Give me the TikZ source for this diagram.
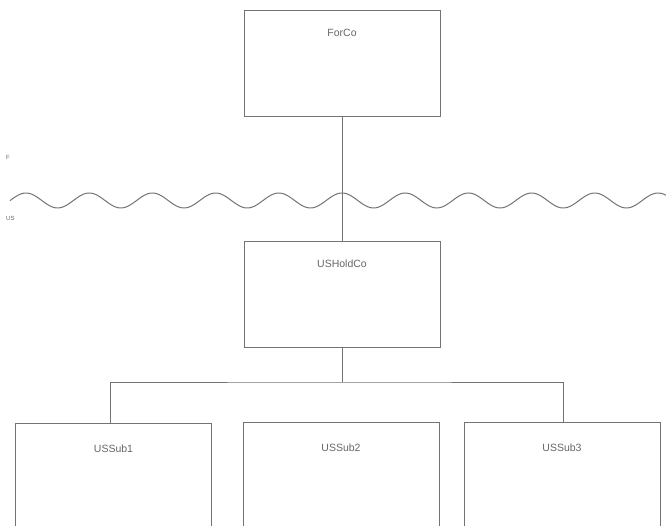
\documentclass[tikz,border=0pt]{standalone}
\usepackage{fontspec}
\setmainfont{Liberation Sans}
\begin{document}
\begin{tikzpicture}[x=1pt,y=-1pt,
  line/.style={draw=black!55, line width=1pt},
  entity/.style={line, rectangle, minimum width=196pt, inner sep=0pt,
    text height=26pt, text depth=80pt, text=black!60, font=\fontsize{10.5}{12}\selectfont},
  subentity/.style={entity, text height=29pt, text depth=180pt},
  side/.style={text=black!60, font=\fontsize{6}{7}\selectfont, inner sep=0pt}]
\clip (0,0) rectangle (666,526);
\node[entity, anchor=north] (forco) at (342,10) {ForCo};
\node[entity, anchor=north] (holdco) at (342,241) {USHoldCo};
\node[subentity, anchor=north] (sub1) at (113.5,423) {USSub1};
\node[subentity, anchor=north] (sub2) at (341,422) {USSub2};
\node[subentity, anchor=north] (sub3) at (562,422) {USSub3};
\coordinate (bar) at (342,382);
% the border between the two countries
\draw[line] plot[domain=10:666, samples=300] (\x, {200.5-7.5*cos((\x-342)/63.2*360)});
\node[side, anchor=west] (fside) at (6,157) {F};
\node[side, anchor=west] (usside) at (6,218) {US};
\draw[line] (forco.south) -- (holdco.north);
\draw[line] (holdco.south) -- (bar);
\draw[line] ([xshift=-3pt]sub1.north) |- (bar) -| ([xshift=1pt]sub3.north);
\end{tikzpicture}
\end{document}
